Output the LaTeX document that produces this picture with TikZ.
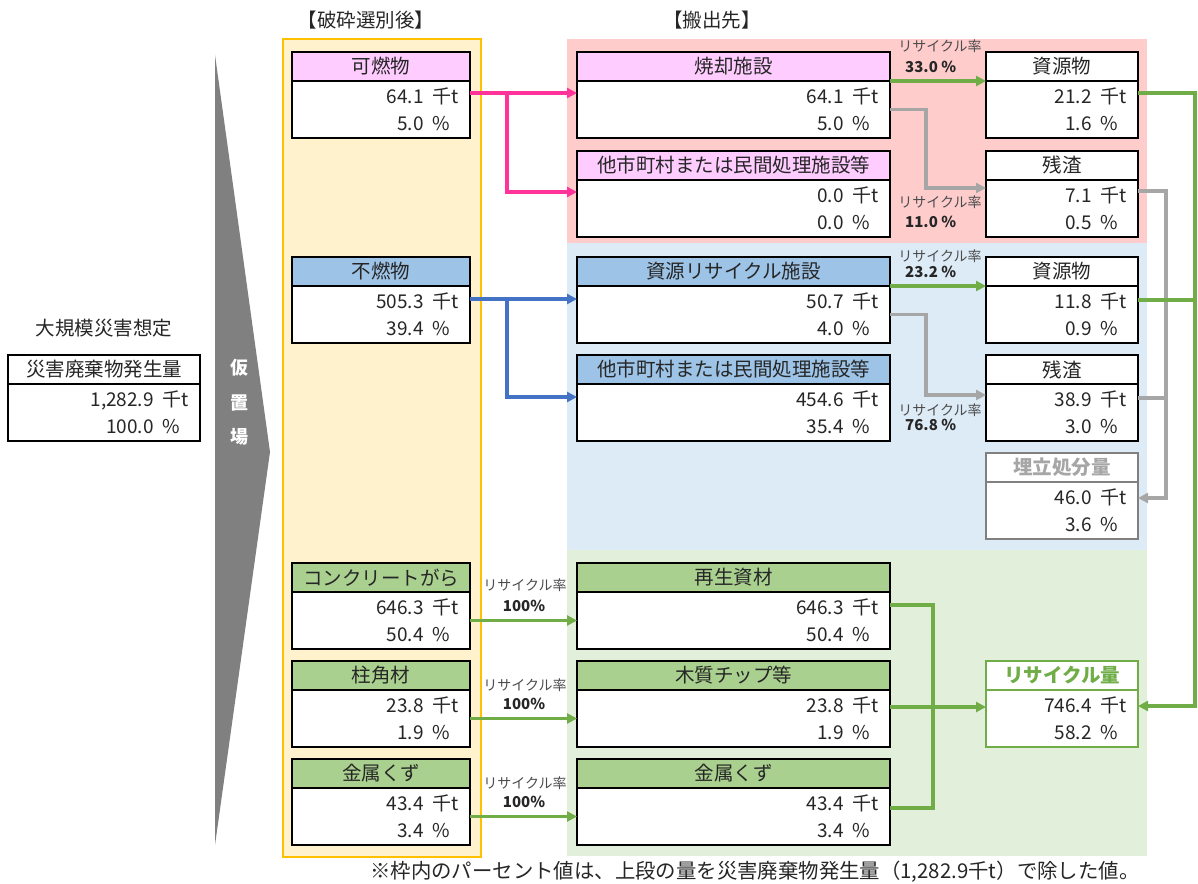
\documentclass[tikz,border=0pt]{standalone}
\usepackage{fontspec}
\setmainfont{Noto Sans CJK JP}
\usetikzlibrary{arrows.meta}

\definecolor{hdrpink}{HTML}{FFCCFF}
\definecolor{hdrblue}{HTML}{9DC3E6}
\definecolor{hdrgreen}{HTML}{A9D08E}
\definecolor{bgpink}{HTML}{FFCCCC}
\definecolor{bgblue}{HTML}{DDEBF7}
\definecolor{bggreen}{HTML}{E2EFDA}
\definecolor{bgyellow}{HTML}{FFF2CC}
\definecolor{edgeyellow}{HTML}{FFC000}
\definecolor{flowpink}{HTML}{FF3399}
\definecolor{flowblue}{HTML}{4472C4}
\definecolor{flowgreen}{HTML}{70AD47}
\definecolor{flowgrey}{HTML}{A6A6A6}
\definecolor{stagegrey}{HTML}{808080}
\definecolor{inkgrey}{HTML}{262626}

\newcommand{\hdrfont}{\fontsize{19.5}{22}\selectfont}
\newcommand{\numfont}{\fontsize{19}{22}\selectfont}
\newcommand{\ratefont}{\fontsize{14}{16}\selectfont}

\tikzset{
  box/.style = {draw, line width = 2.6pt, inner sep = 0pt, outer sep = 0pt, anchor = north west},
  hdr/.style = {box, minimum height = 29pt, font = \hdrfont, text = inkgrey},
  body/.style = {box, fill = white, minimum height = 57pt},
  amount/.style = {inner sep = 0pt, anchor = base east, font = \numfont, text = inkgrey},
  unit/.style = {inner sep = 0pt, anchor = base west, font = \numfont, text = inkgrey},
  pinkh/.style = {fill = hdrpink}, pinkb/.style = {},
  blueh/.style = {fill = hdrblue}, blueb/.style = {},
  greenh/.style = {fill = hdrgreen}, greenb/.style = {},
  plainh/.style = {fill = white}, plainb/.style = {},
  landh/.style = {fill = white, draw = stagegrey, text = flowgrey, font = \hdrfont\bfseries},
  landb/.style = {draw = stagegrey},
  recych/.style = {fill = white, draw = flowgreen, text = flowgreen, font = \hdrfont\bfseries},
  recycb/.style = {draw = flowgreen},
  flow/.style = {line width = 3.3pt},
  tip/.style = {-{Triangle[length = 10pt, width = 10pt]}},
  rate/.style = {inner sep = 0pt, font = \ratefont, text = black!70},
  ratev/.style = {inner sep = 0pt, anchor = west, font = \fontsize{15}{17}\selectfont\bfseries, text = inkgrey},
  heading/.style = {inner sep = 0pt, font = \fontsize{19.5}{22}\selectfont, text = inkgrey},
  stage/.style = {inner sep = 0pt, font = \fontsize{18}{20}\selectfont\bfseries, text = white}
}

\newcommand{\wastebox}[8]{%
  \node[hdr, #5h, minimum width = #4pt] (#1h) at (#2,#3) {#6};
  \node[body, #5b, minimum width = #4pt] (#1) at (#1h.south west) {};
  \node[amount] (#1a) at ([xshift = -46pt, yshift = -22pt]#1.north east) {#7};
  \node[unit] (#1au) at ([xshift = -38pt, yshift = -22pt]#1.north east) {千t};
  \node[amount] (#1p) at ([xshift = -46pt, yshift = -49pt]#1.north east) {#8};
  \node[unit] (#1pu) at ([xshift = -38pt, yshift = -49pt]#1.north east) {\%};
}

\begin{document}
\begin{tikzpicture}[x = 1pt, y = -1pt]
  \useasboundingbox (0,0) rectangle (1198,883);

  \fill[bgpink] (567,39) rectangle (1147,243);
  \fill[bgblue] (567,243) rectangle (1147,550);
  \fill[bggreen] (567,550) rectangle (1147,856);
  \draw[edgeyellow, fill = bgyellow, line width = 2.6pt] (283,39) rectangle (481,857);
  \fill[stagegrey] (215,55) -- (270,452) -- (215,845) -- cycle;

  \node[heading] (titleA) at (366,20) {【破砕選別後】};
  \node[heading] (titleB) at (712,20) {【搬出先】};
  \node[heading] (scenario) at (104,328) {大規模災害想定};
  \node[stage] (kari) at (239,368) {仮};
  \node[stage] (oki) at (239,403) {置};
  \node[stage] (ba) at (239,437) {場};

  \wastebox{hassei}{8}{355}{192}{plain}{災害廃棄物発生量}{1,282.9}{100.0}

  \wastebox{kanen}{292}{52}{178}{pink}{可燃物}{64.1}{5.0}
  \wastebox{funen}{292}{257}{178}{blue}{不燃物}{505.3}{39.4}
  \wastebox{concrete}{292}{563}{178}{green}{コンクリートがら}{646.3}{50.4}
  \wastebox{hashira}{292}{661}{178}{green}{柱角材}{23.8}{1.9}
  \wastebox{kinzokuA}{292}{759}{178}{green}{金属くず}{43.4}{3.4}

  \wastebox{shokyaku}{577}{52}{313}{pink}{焼却施設}{64.1}{5.0}
  \wastebox{tashiA}{577}{151}{313}{pink}{他市町村または民間処理施設等}{0.0}{0.0}
  \wastebox{shigenR}{577}{257}{313}{blue}{資源リサイクル施設}{50.7}{4.0}
  \wastebox{tashiB}{577}{355}{313}{blue}{他市町村または民間処理施設等}{454.6}{35.4}
  \wastebox{saisei}{577}{563}{313}{green}{再生資材}{646.3}{50.4}
  \wastebox{mokushitsu}{577}{661}{313}{green}{木質チップ等}{23.8}{1.9}
  \wastebox{kinzokuB}{577}{759}{313}{green}{金属くず}{43.4}{3.4}

  \wastebox{shigenA}{986}{52}{152}{plain}{資源物}{21.2}{1.6}
  \wastebox{zansaA}{986}{151}{152}{plain}{残渣}{7.1}{0.5}
  \wastebox{shigenB}{986}{257}{152}{plain}{資源物}{11.8}{0.9}
  \wastebox{zansaB}{986}{355}{152}{plain}{残渣}{38.9}{3.0}
  \wastebox{umetate}{986}{453}{152}{land}{埋立処分量}{46.0}{3.6}
  \wastebox{recycle}{986}{661}{152}{recyc}{リサイクル量}{746.4}{58.2}

  \node[rate] (rateA) at (940,46) {リサイクル率};
  \node[ratev] (rateAv) at (905,67) {33.0 \%};
  \node[rate] (rateB) at (940,202) {リサイクル率};
  \node[ratev] (rateBv) at (905,222) {11.0 \%};
  \node[rate] (rateC) at (940,256) {リサイクル率};
  \node[ratev] (rateCv) at (905,272) {23.2 \%};
  \node[rate] (rateD) at (940,410) {リサイクル率};
  \node[ratev] (rateDv) at (905,425) {76.8 \%};
  \node[rate] (rateE) at (525,585) {リサイクル率};
  \node[ratev, anchor = center] (rateEv) at (524,606) {100\%};
  \node[rate] (rateF) at (525,685) {リサイクル率};
  \node[ratev, anchor = center] (rateFv) at (524,704) {100\%};
  \node[rate] (rateG) at (525,783) {リサイクル率};
  \node[ratev, anchor = center] (rateGv) at (524,802) {100\%};

  \coordinate (greenbus) at (1195,0);
  \coordinate (greybus) at (1166,0);
  \coordinate (bracket) at (933,0);
  \coordinate (recin) at ([yshift = -16pt]recycle.north east);
  \coordinate (recwest) at ([yshift = -17pt]recycle.north west);
  \coordinate (landin) at ([yshift = -16pt]umetate.north east);
  \coordinate (shigenAout) at ([yshift = -12pt]shigenA.north east);
  \coordinate (shigenBout) at ([yshift = -14pt]shigenB.north east);
  \coordinate (zansaAout) at ([yshift = -11pt]zansaA.north east);
  \coordinate (zansaBout) at ([yshift = -14pt]zansaB.north east);
  \coordinate (saiseiout) at ([yshift = -13pt]saisei.north east);
  \coordinate (kinzokuBout) at ([yshift = -20pt]kinzokuB.north east);

  \draw[flow, flowpink, tip] ([yshift = -12pt]kanen.north east) -- ([yshift = -12pt]shokyaku.north west);
  \draw[flow, flowpink, tip] ([yshift = -12pt]kanen.north east) -- ++(37,0) |- ([yshift = -12pt]tashiA.north west);
  \draw[flow, flowblue, tip] ([yshift = -13pt]funen.north east) -- ([yshift = -13pt]shigenR.north west);
  \draw[flow, flowblue, tip] ([yshift = -13pt]funen.north east) -- ++(37,0) |- ([yshift = -13pt]tashiB.north west);

  \draw[flow, flowgreen, tip] (shokyaku.north east) -- (shigenA.north west);
  \draw[flow, flowgreen, tip] (shigenR.north east) -- (shigenB.north west);
  \draw[flow, flowgrey, tip] (shokyaku.east) -- ++(36,0) |- ([yshift = -8pt]zansaA.north west);
  \draw[flow, flowgrey, tip] (shigenR.east) -- ++(36,0) |- ([yshift = -11pt]zansaB.north west);

  \draw[flow, flowgrey, tip] (zansaAout) -| (greybus |- landin) -- (landin);
  \draw[flow, flowgrey] (zansaBout) -- (greybus |- zansaBout);
  \draw[flow, flowgreen, tip] (shigenAout) -| (greenbus |- recin) -- (recin);
  \draw[flow, flowgreen] (shigenBout) -- (greenbus |- shigenBout);

  \draw[flow, flowgreen, tip] (concrete.east) -- (saisei.west);
  \draw[flow, flowgreen, tip] (hashira.east) -- (mokushitsu.west);
  \draw[flow, flowgreen, tip] (kinzokuA.east) -- (kinzokuB.west);
  \draw[flow, flowgreen] (saiseiout) -| (bracket |- kinzokuBout) -- (kinzokuBout);
  \draw[flow, flowgreen, tip] (mokushitsu.east |- recwest) -- (recwest);

  \node[heading, anchor = west, font = \fontsize{20.4}{23}\selectfont] (footnote) at (370,872) {※枠内のパーセント値は、上段の量を災害廃棄物発生量（1,282.9千t）で除した値。};
\end{tikzpicture}
\end{document}
